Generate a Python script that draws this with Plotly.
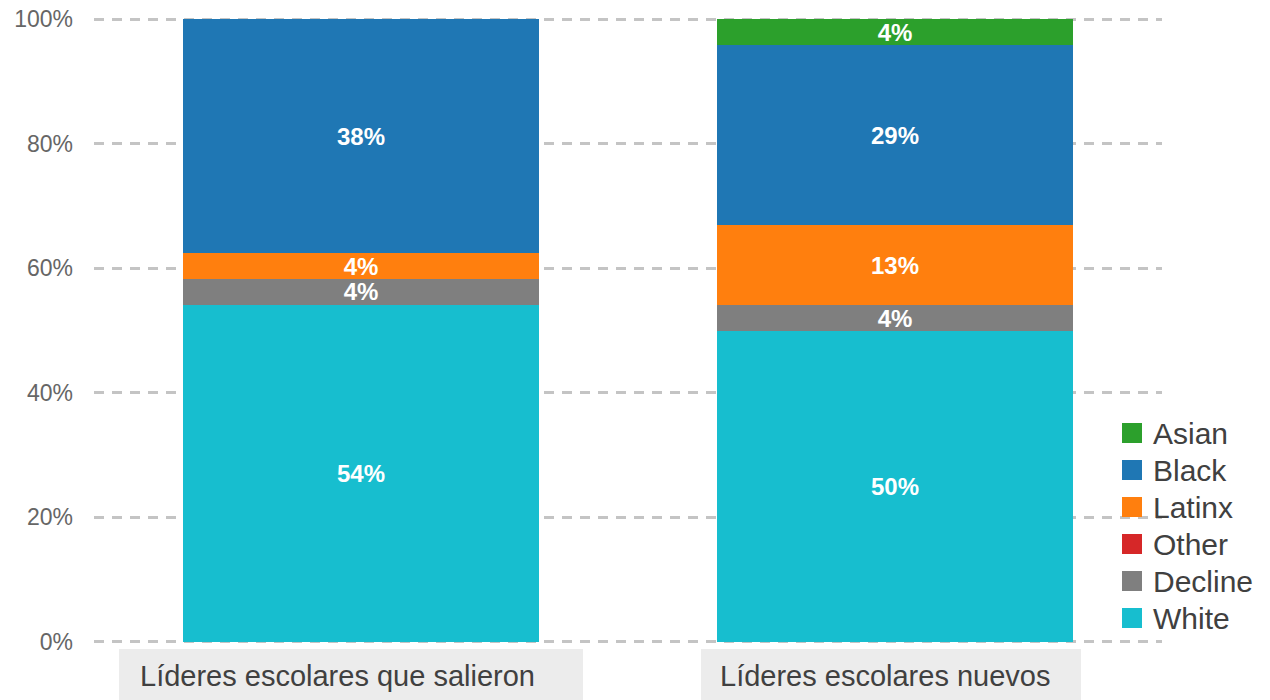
import plotly.graph_objects as go

# ---- data ----
categories = ["Líderes escolares que salieron", "Líderes escolares nuevos"]
series_names = ["White", "Decline", "Other", "Latinx", "Black", "Asian"]
white = [54.1, 49.9]
decline = [4.2, 4.2]
other = [0.0, 0.0]
latinx = [4.1, 12.8]
black = [37.6, 28.9]
asian = [0.0, 4.2]
y_ticks = [0, 20, 40, 60, 80, 100]
y_tick_labels = ["0%", "20%", "40%", "60%", "80%", "100%"]

series_values = [white, decline, other, latinx, black, asian]
colors = ["#17becf", "#7f7f7f", "#d62728", "#ff7f0e", "#1f77b4", "#2ca02c"]

FONT = "Liberation Sans, Arial, sans-serif"
W, H = 1270, 700
L, R, T, B = 94, 108, 17, 56
PW, PH = W - L - R, H - T - B
Y0, Y1 = -0.35, 100.35


def px_x(p):
    return (p - L) / PW


def px_y(p):
    return (H - B - p) / PH


fig = go.Figure()
for name, vals, col in zip(series_names, series_values, colors):
    fig.add_trace(go.Bar(
        x=categories, y=vals, name=name,
        marker=dict(color=col, line=dict(width=0)),
        text=[f"{v:.0f}%" if v > 0 else "" for v in vals],
        textposition="inside", insidetextanchor="middle",
        constraintext="none",
        textfont=dict(color="white", size=24, family=FONT, weight="bold"),
        showlegend=False, hoverinfo="skip",
    ))

shapes = []
annotations = []

# category label boxes
box_px = [(119, 583), (701, 1081)]
text_left_px = [138, 718]
for cat, (x0, x1), tl in zip(categories, box_px, text_left_px):
    shapes.append(dict(type="rect", xref="paper", yref="paper",
                       x0=px_x(x0), x1=px_x(x1), y0=px_y(649), y1=px_y(702),
                       fillcolor="#ececec", line=dict(width=0), layer="below"))
    annotations.append(dict(xref="paper", yref="paper", x=px_x(tl), y=px_y(676),
                            xanchor="left", yanchor="middle", showarrow=False,
                            text=cat, font=dict(size=29, color="#404040", family=FONT)))

# manual legend (top to bottom: Asian ... White)
leg_names = series_names[::-1]
leg_colors = colors[::-1]
for i, (n, c) in enumerate(zip(leg_names, leg_colors)):
    yc = 433 + 37 * i
    shapes.append(dict(type="rect", xref="paper", yref="paper",
                       x0=px_x(1122), x1=px_x(1142), y0=px_y(yc - 10), y1=px_y(yc + 10),
                       fillcolor=c, line=dict(width=0)))
    annotations.append(dict(xref="paper", yref="paper", x=px_x(1151), y=px_y(yc),
                            xanchor="left", yanchor="middle", showarrow=False,
                            text=n, font=dict(size=30, color="#404040", family=FONT)))

fig.update_layout(
    width=W, height=H,
    margin=dict(l=L, r=R, t=T, b=B, pad=0, autoexpand=False),
    barmode="stack", bargap=1/3,
    plot_bgcolor="white", paper_bgcolor="white",
    showlegend=False,
    shapes=shapes, annotations=annotations,
    xaxis=dict(showticklabels=False, showgrid=False, zeroline=False, showline=False,
               ticks="", range=[-0.5, 1.5], automargin=False),
    yaxis=dict(range=[Y0, Y1], tickvals=y_ticks, ticktext=y_tick_labels,
               showgrid=True, gridcolor="#c4c4c4", gridwidth=2.5, griddash="10px,8px",
               zeroline=False, showline=False, ticks="", automargin=False,
               ticklabelstandoff=20,
               tickfont=dict(size=23, color="#666666", family=FONT)),
    font=dict(family=FONT),
)

fig.write_html("out.html")
